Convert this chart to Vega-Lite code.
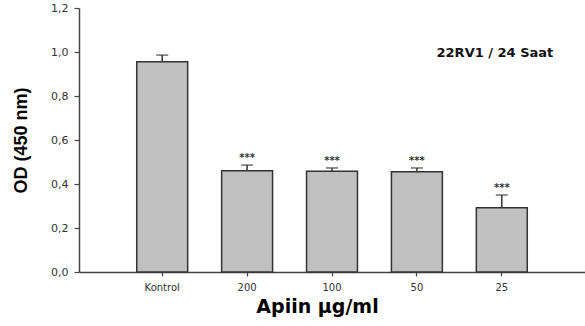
{
  "$schema": "https://vega.github.io/schema/vega-lite/v6.json",
  "autosize": "none",
  "width": 506,
  "height": 264,
  "padding": {"left": 79, "top": 8, "right": 0, "bottom": 54},
  "background": "white",
  "config": {
    "view": {"stroke": null},
    "font": "DejaVu Sans",
    "axis": {"grid": false, "domainColor": "#444", "domainWidth": 1.5, "tickColor": "#444", "tickWidth": 1.2, "labelFont": "DejaVu Sans", "labelColor": "#333", "titleFont": "DejaVu Sans", "titleColor": "#000"}
  },
  "data": {"values": [
    {"group": "Kontrol", "value": 0.956, "hi": 0.986, "sig": ""},
    {"group": "200", "value": 0.460, "hi": 0.486, "sig": "***"},
    {"group": "100", "value": 0.458, "hi": 0.473, "sig": "***"},
    {"group": "50", "value": 0.456, "hi": 0.473, "sig": "***"},
    {"group": "25", "value": 0.292, "hi": 0.350, "sig": "***"}
  ]},
  "encoding": {
    "x": {"field": "group", "type": "nominal",
      "scale": {"domain": ["Kontrol", "200", "100", "50", "25"], "paddingInner": 0.4, "paddingOuter": 0.68},
      "axis": {"title": "Apiin μg/ml", "labelAngle": 0, "labelFontSize": 10, "labelPadding": 6, "tickSize": 4, "titleFontSize": 19, "titleFontWeight": "bold", "titlePadding": 5, "titleX": 238}
    }
  },
  "layer": [
    {
      "mark": {"type": "rule", "color": "#333", "strokeWidth": 1.5},
      "encoding": {
        "y": {"field": "value", "type": "quantitative"},
        "y2": {"field": "hi"}
      }
    },
    {
      "mark": {"type": "tick", "color": "#333", "size": 12, "thickness": 1.5, "orient": "horizontal"},
      "encoding": {"y": {"field": "hi", "type": "quantitative"}}
    },
    {
      "mark": {"type": "bar", "fill": "#c0c0c0", "stroke": "#333", "strokeWidth": 1.5},
      "encoding": {
        "y": {"field": "value", "type": "quantitative",
          "scale": {"domain": [0, 1.2]},
          "axis": {"title": "OD (450 nm)", "titleFont": "Liberation Sans", "values": [0, 0.2, 0.4, 0.6, 0.8, 1.0, 1.2], "labelExpr": "replace(format(datum.value, '.1f'), '.', ',')", "labelFontSize": 11, "tickSize": 5, "labelPadding": 6, "titleFontSize": 18, "titleFontWeight": "bold", "titlePadding": 20}
        }
      }
    },
    {
      "mark": {"type": "text", "dy": -7, "fontSize": 10, "fontWeight": "bold", "color": "#333"},
      "encoding": {
        "y": {"field": "hi", "type": "quantitative"},
        "text": {"field": "sig"}
      }
    },
    {
      "data": {"values": [{"label": "22RV1 / 24 Saat", "group": "50", "gy": 0.995}]},
      "mark": {"type": "text", "fontSize": 13, "fontWeight": "bold", "color": "#111", "dx": 78, "align": "center"},
      "encoding": {
        "y": {"field": "gy", "type": "quantitative"},
        "text": {"field": "label"}
      }
    }
  ]
}
